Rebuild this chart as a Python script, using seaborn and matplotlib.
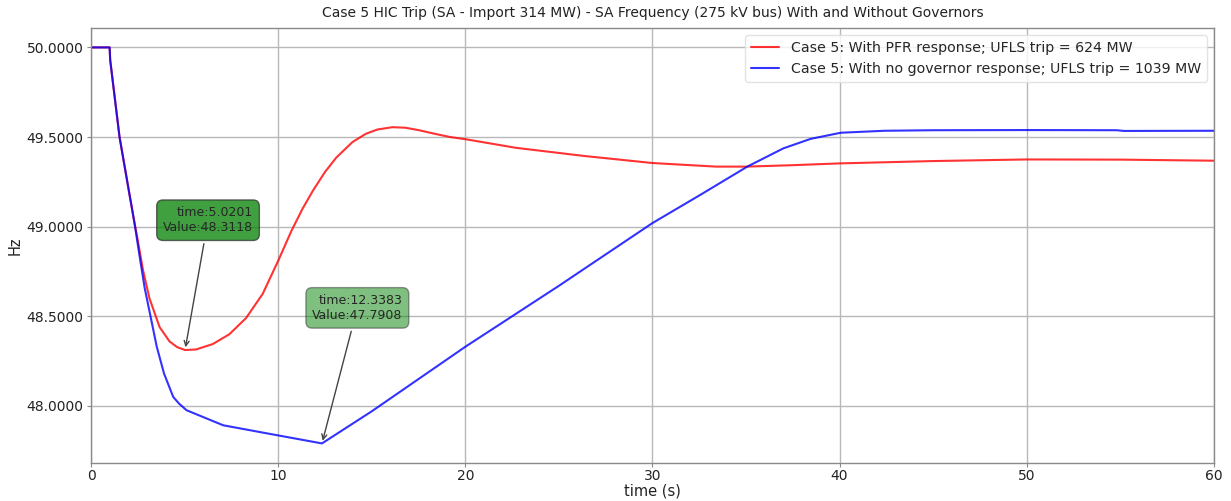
import numpy as np
import pandas as pd
import matplotlib
matplotlib.use("Agg")
import matplotlib.pyplot as plt
import seaborn as sns

# ---- data ----
t_pfr = [0.0, 0.99, 1.02, 1.52, 2.0, 2.32, 2.45, 2.77, 3.12, 3.66, 4.19, 4.6,
         5.0201, 5.61, 6.5, 7.39, 8.28, 9.17, 10.0, 10.7, 11.3, 11.85, 12.5,
         13.1, 13.97, 14.68, 15.3, 16.1, 16.8, 17.53, 18.5, 19.2, 20.0, 22.7,
         26.3, 30.0, 33.4, 35.0, 37.5, 40.0, 45.0, 50.0, 55.0, 60.0]
f_pfr = [50.0, 50.0, 49.93, 49.50, 49.21, 49.02, 48.95, 48.76, 48.60, 48.44,
         48.36, 48.328, 48.3118, 48.315, 48.345, 48.40, 48.49, 48.625, 48.81,
         48.975, 49.10, 49.20, 49.305, 49.385, 49.472, 49.518, 49.542, 49.555,
         49.552, 49.538, 49.515, 49.50, 49.488, 49.44, 49.395, 49.355, 49.335,
         49.335, 49.343, 49.353, 49.366, 49.375, 49.374, 49.368]

t_nogov = [0.0, 0.99, 1.02, 1.52, 2.32, 2.57, 2.86, 3.51, 3.9, 4.39, 4.7, 5.1,
           7.06, 9.5, 12.3383, 15.0, 20.0, 25.0, 30.0, 32.6, 35.07, 37.0,
           38.46, 40.07, 42.4, 45.0, 50.0, 54.8, 55.2, 60.0]
f_nogov = [50.0, 50.0, 49.93, 49.50, 49.02, 48.85, 48.66, 48.33, 48.18, 48.05,
           48.013, 47.976, 47.892, 47.845, 47.7908, 47.97, 48.33, 48.67, 49.02,
           49.18, 49.335, 49.437, 49.49, 49.524, 49.535, 49.538, 49.539,
           49.538, 49.534, 49.535]

label_pfr = "Case 5: With PFR response; UFLS trip = 624 MW"
label_nogov = "Case 5: With no governor response; UFLS trip = 1039 MW"
title = ("Case 5 HIC Trip (SA - Import 314 MW) - SA Frequency (275 kV bus) "
         "With and Without Governors")
x_ticks = [0, 10, 20, 30, 40, 50, 60]
y_ticks = [48.0, 48.5, 49.0, 49.5, 50.0]

ann1_xy = (5.0201, 48.3118)
ann2_xy = (12.3383, 47.7908)

# ---- style ----
sns.set_style("whitegrid", {
    "grid.color": "#b8b8b8",
    "axes.edgecolor": "#8a8a8a",
    "xtick.bottom": True,
    "ytick.left": True,
})
plt.rcParams["font.family"] = ["DejaVu Sans"]
plt.rcParams["xtick.major.size"] = 3
plt.rcParams["ytick.major.size"] = 3
plt.rcParams["xtick.major.pad"] = 1.5
plt.rcParams["ytick.major.pad"] = 2.5
plt.rcParams["xtick.color"] = "#8a8a8a"
plt.rcParams["ytick.color"] = "#8a8a8a"
plt.rcParams["xtick.labelcolor"] = "#222222"
plt.rcParams["ytick.labelcolor"] = "#222222"

fig = plt.figure(figsize=(12.31, 5.01), dpi=100)
ax = fig.add_axes([0.074, 0.076, 0.912, 0.868])

df1 = pd.DataFrame({"t": t_pfr, "f": f_pfr})
df2 = pd.DataFrame({"t": t_nogov, "f": f_nogov})
sns.lineplot(data=df1, x="t", y="f", ax=ax, color="red", alpha=0.8,
             linewidth=1.5, label=label_pfr)
sns.lineplot(data=df2, x="t", y="f", ax=ax, color="blue", alpha=0.8,
             linewidth=1.5, label=label_nogov)

ax.set_xlim(0, 60)
ax.set_ylim(47.682, 50.108)
ax.set_xticks(x_ticks)
ax.set_yticks(y_ticks)
ax.yaxis.set_major_formatter(matplotlib.ticker.FormatStrFormatter("%.4f"))
ax.tick_params(labelsize=10)
ax.grid(True, color="#b8b8b8", linewidth=1.0)
for s in ax.spines.values():
    s.set_linewidth(1.0)

ax.set_xlabel("time (s)", fontsize=10.5, color="#222222", labelpad=0)
ax.set_ylabel("Hz", fontsize=10.5, color="#222222", labelpad=3)
ax.set_title(title, fontsize=10, color="#222222", pad=8)

leg = ax.legend(loc="upper right", fontsize=10.2, frameon=True)
leg.get_frame().set_edgecolor("#dddddd")

ax.annotate("time:{:.4f}\nValue:{:.4f}".format(*ann1_xy), xy=ann1_xy,
            xytext=(6.25, 49.036), textcoords="data", ha="center", va="center",
            multialignment="right", fontsize=9,
            bbox=dict(boxstyle="round,pad=0.5", fc="green", ec="#333333",
                      alpha=0.75),
            arrowprops=dict(arrowstyle="->", color="#444444", lw=1.0))
ax.annotate("time:{:.4f}\nValue:{:.4f}".format(*ann2_xy), xy=ann2_xy,
            xytext=(14.23, 48.547), textcoords="data", ha="center", va="center",
            multialignment="right", fontsize=9,
            bbox=dict(boxstyle="round,pad=0.5", fc="green", ec="#333333",
                      alpha=0.5),
            arrowprops=dict(arrowstyle="->", color="#444444", lw=1.0))

fig.savefig("out.png", dpi=100)
